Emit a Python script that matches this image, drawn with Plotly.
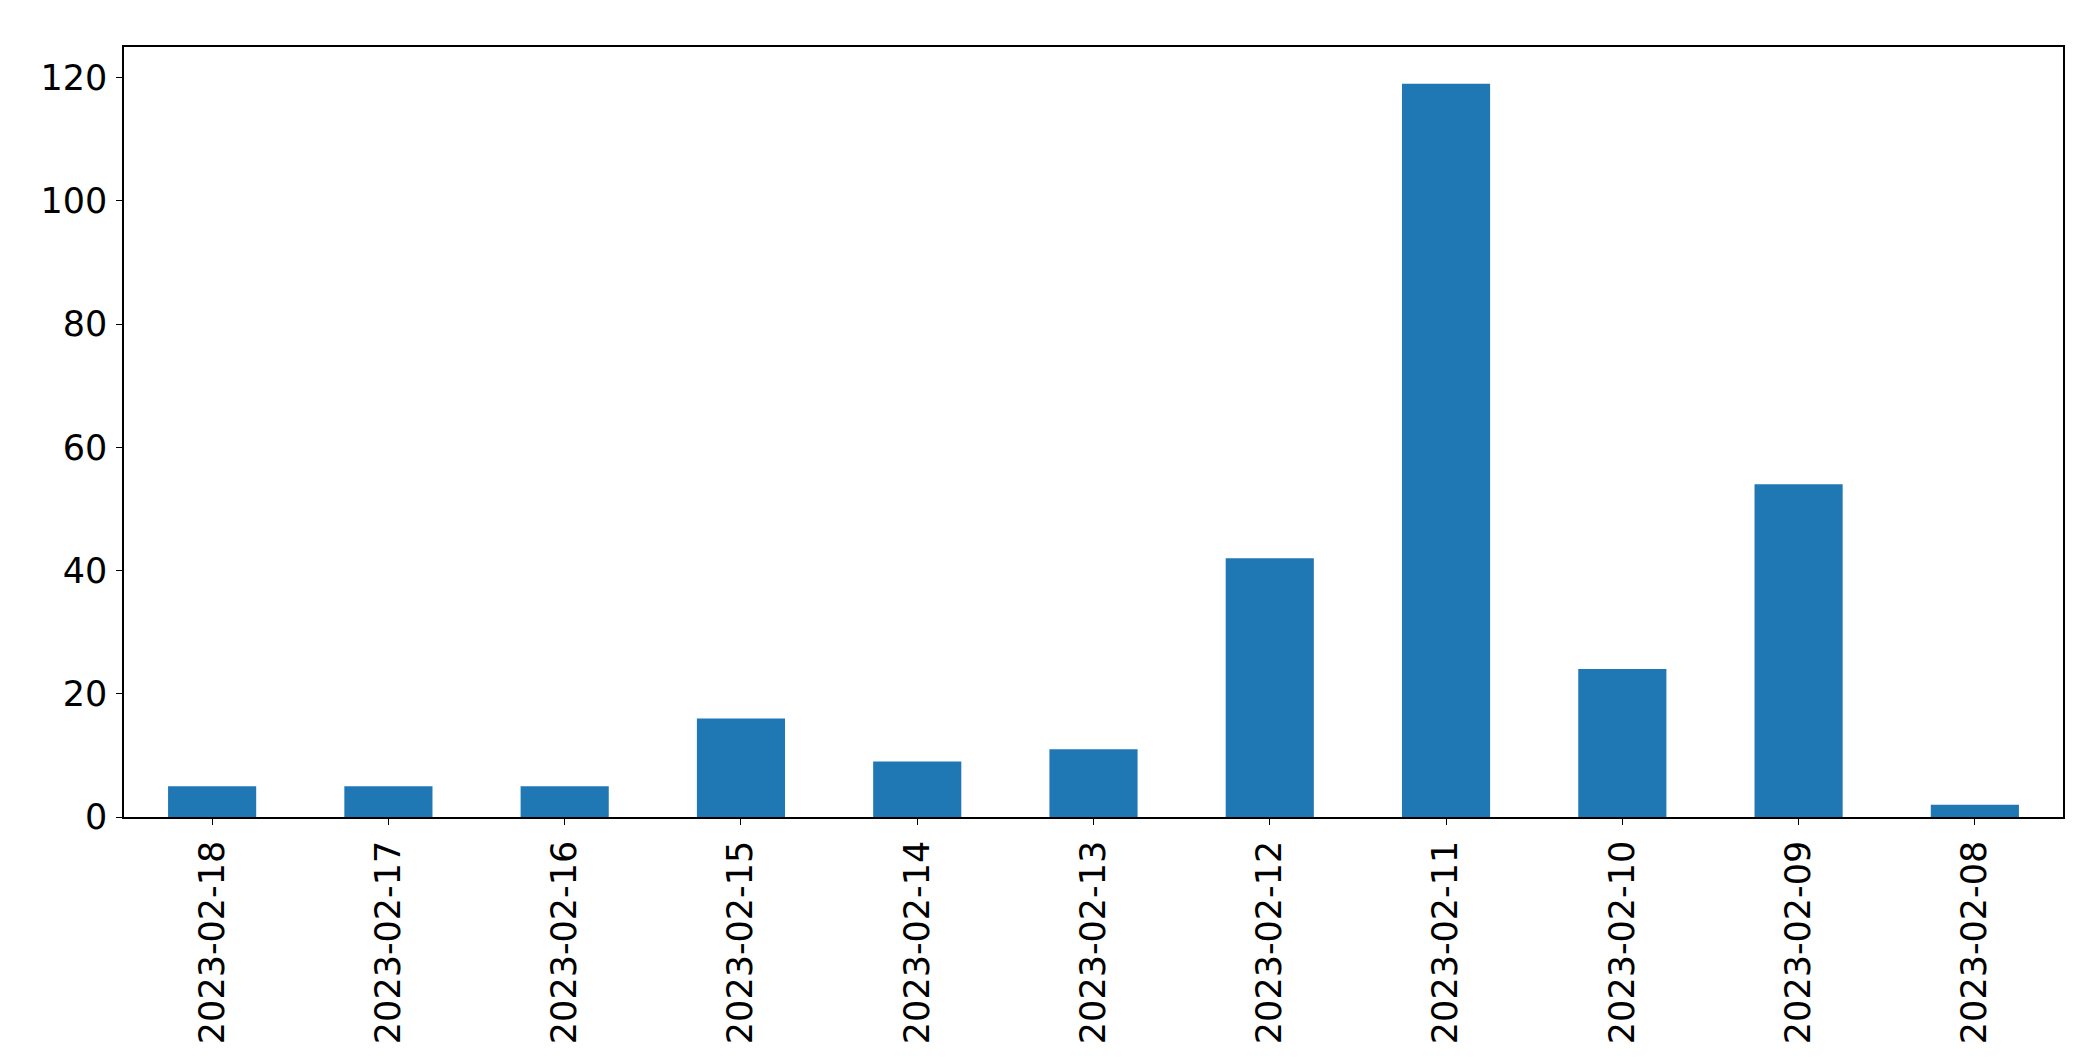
import plotly.graph_objects as go

dates = ["2023-02-18", "2023-02-17", "2023-02-16", "2023-02-15", "2023-02-14",
         "2023-02-13", "2023-02-12", "2023-02-11", "2023-02-10", "2023-02-09", "2023-02-08"]
counts = [5, 5, 5, 16, 9, 11, 42, 119, 24, 54, 2]
y_ticks = [0, 20, 40, 60, 80, 100, 120]

fig = go.Figure(go.Bar(x=list(range(len(dates))), y=counts, width=0.5,
                       marker=dict(color="#1f77b4", line=dict(width=0))))

fig.update_layout(
    width=2093, height=1061,
    margin=dict(l=116, r=38, t=39, b=252),
    paper_bgcolor="white", plot_bgcolor="white",
    font=dict(family="DejaVu Sans", size=35, color="black"),
    showlegend=False,
)
fig.update_xaxes(
    range=[-0.5, len(dates) - 0.5],
    tickmode="array", tickvals=list(range(len(dates))), ticktext=dates,
    tickangle=-90, ticks="outside", ticklen=6, tickwidth=1.2, tickcolor="black",
    showline=True, linecolor="black", linewidth=1.5, mirror=True,
    showgrid=False, zeroline=False, ticklabelstandoff=2,
)
fig.update_yaxes(
    range=[0, max(counts) * 1.05],
    tickmode="array", tickvals=y_ticks,
    ticks="outside", ticklen=6, tickwidth=1.2, tickcolor="black",
    showline=True, linecolor="black", linewidth=1.5, mirror=True,
    showgrid=False, zeroline=False, ticklabelstandoff=2,
)
fig.write_html("out.html")
